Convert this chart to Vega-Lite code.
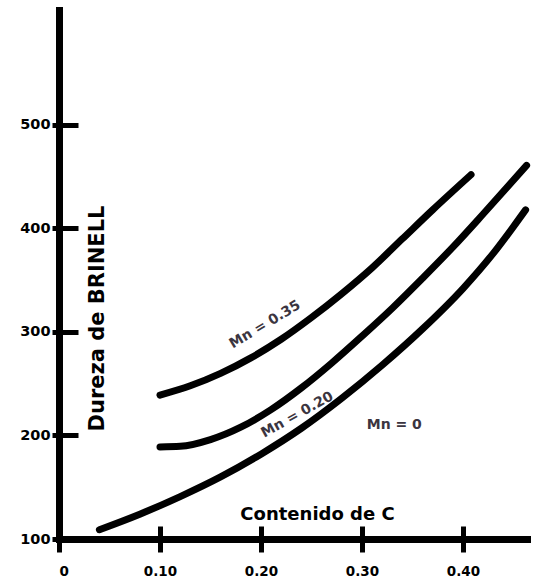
{
  "$schema": "https://vega.github.io/schema/vega-lite/v6.json",
  "autosize": {"type": "none"},
  "padding": {"left": 59, "top": 10, "right": 11, "bottom": 43},
  "width": 468,
  "height": 529,
  "background": "white",
  "config": {"view": {"stroke": null}, "font": "DejaVu Sans"},
  "datasets": {
    "curves": [
      {"c": 0.10, "h": 239, "s": "a"},
      {"c": 0.13, "h": 248, "s": "a"},
      {"c": 0.16, "h": 260, "s": "a"},
      {"c": 0.19, "h": 275, "s": "a"},
      {"c": 0.22, "h": 293, "s": "a"},
      {"c": 0.25, "h": 314, "s": "a"},
      {"c": 0.28, "h": 337, "s": "a"},
      {"c": 0.31, "h": 362, "s": "a"},
      {"c": 0.34, "h": 390, "s": "a"},
      {"c": 0.37, "h": 418, "s": "a"},
      {"c": 0.408, "h": 452, "s": "a"},
      {"c": 0.10, "h": 189, "s": "b"},
      {"c": 0.12, "h": 189.5, "s": "b"},
      {"c": 0.15, "h": 196, "s": "b"},
      {"c": 0.18, "h": 208, "s": "b"},
      {"c": 0.21, "h": 225, "s": "b"},
      {"c": 0.24, "h": 246, "s": "b"},
      {"c": 0.27, "h": 270, "s": "b"},
      {"c": 0.30, "h": 296, "s": "b"},
      {"c": 0.33, "h": 323, "s": "b"},
      {"c": 0.36, "h": 352, "s": "b"},
      {"c": 0.39, "h": 382, "s": "b"},
      {"c": 0.42, "h": 414, "s": "b"},
      {"c": 0.463, "h": 461, "s": "b"},
      {"c": 0.04, "h": 109, "s": "c"},
      {"c": 0.08, "h": 124, "s": "c"},
      {"c": 0.12, "h": 141, "s": "c"},
      {"c": 0.16, "h": 160, "s": "c"},
      {"c": 0.20, "h": 182, "s": "c"},
      {"c": 0.24, "h": 207, "s": "c"},
      {"c": 0.28, "h": 236, "s": "c"},
      {"c": 0.32, "h": 268, "s": "c"},
      {"c": 0.36, "h": 303, "s": "c"},
      {"c": 0.40, "h": 342, "s": "c"},
      {"c": 0.43, "h": 376, "s": "c"},
      {"c": 0.462, "h": 418, "s": "c"}
    ],
    "labels": [
      {"c": 0.204, "h": 307, "t": "Mn = 0.35", "k": "top"},
      {"c": 0.236, "h": 220, "t": "Mn = 0.20", "k": "mid"},
      {"c": 0.332, "h": 210, "t": "Mn = 0", "k": "low"}
    ]
  },
  "layer": [
    {
      "data": {"name": "curves"},
      "mark": {"type": "line", "color": "black", "strokeWidth": 7, "strokeCap": "round", "interpolate": "monotone"},
      "encoding": {
        "x": {
          "field": "c", "type": "quantitative",
          "scale": {"domain": [0, 0.4634], "nice": false, "zero": false},
          "axis": {
            "orient": "bottom",
            "values": [0, 0.1, 0.2, 0.3, 0.4],
            "labelExpr": "datum.value == 0 ? '0' : format(datum.value, '.2f')",
            "grid": false,
            "domain": true, "domainColor": "black", "domainWidth": 7, "domainCap": "square",
            "ticks": true, "tickColor": "black", "tickWidth": 5, "tickSize": 13,
            "labelFont": "DejaVu Sans", "labelFontWeight": "bold", "labelFontSize": 13.5, "labelColor": "black",
            "labelPadding": 12, "labelBaseline": "top",
            "title": "Contenido de C",
            "titleFont": "DejaVu Sans", "titleFontWeight": "bold", "titleFontSize": 18, "titleColor": "black",
            "titleX": 258, "titleY": -25, "titleBaseline": "middle", "titleAlign": "center", "titleAnchor": null
          }
        },
        "y": {
          "field": "h", "type": "quantitative",
          "scale": {"domain": [100, 611.1], "nice": false, "zero": false},
          "axis": {
            "orient": "left",
            "values": [100, 200, 300, 400, 500],
            "grid": false,
            "domain": true, "domainColor": "black", "domainWidth": 7, "domainCap": "square",
            "ticks": true, "tickColor": "black", "tickWidth": 5, "tickSize": 7,
            "labelFont": "DejaVu Sans", "labelFontWeight": "bold", "labelFontSize": 14.5, "labelColor": "black",
            "labelPadding": 2,
            "title": "Dureza de BRINELL",
            "titleFont": "DejaVu Sans", "titleFontWeight": "bold", "titleFontSize": 21, "titleColor": "black",
            "titleX": 38, "titleY": 308, "titleAngle": 270, "titleBaseline": "middle", "titleAlign": "center", "titleAnchor": null
          }
        },
        "detail": {"field": "s"}
      }
    },
    {
      "data": {"name": "labels"},
      "transform": [{"filter": "datum.k == 'top'"}],
      "mark": {"type": "text", "angle": -31, "font": "DejaVu Sans", "fontWeight": "bold", "fontSize": 14, "color": "#3b3540"},
      "encoding": {
        "x": {"field": "c", "type": "quantitative", "axis": {
          "orient": "bottom", "values": [0.1, 0.2, 0.3, 0.4], "grid": false, "domain": false, "labels": false,
          "ticks": true, "tickColor": "black", "tickWidth": 5, "tickSize": -13, "title": null}},
        "y": {"field": "h", "type": "quantitative", "axis": {
          "orient": "left", "values": [200, 300, 400, 500], "grid": false, "domain": false, "labels": false,
          "ticks": true, "tickColor": "black", "tickWidth": 5, "tickSize": -19, "title": null}},
        "text": {"field": "t"}
      }
    },
    {
      "data": {"name": "labels"},
      "transform": [{"filter": "datum.k == 'mid'"}],
      "mark": {"type": "text", "angle": -29, "font": "DejaVu Sans", "fontWeight": "bold", "fontSize": 14, "color": "#3b3540"},
      "encoding": {
        "x": {"field": "c", "type": "quantitative", "axis": null},
        "y": {"field": "h", "type": "quantitative", "axis": null},
        "text": {"field": "t"}
      }
    },
    {
      "data": {"name": "labels"},
      "transform": [{"filter": "datum.k == 'low'"}],
      "mark": {"type": "text", "angle": 0, "font": "DejaVu Sans", "fontWeight": "bold", "fontSize": 14, "color": "#3b3540"},
      "encoding": {
        "x": {"field": "c", "type": "quantitative", "axis": null},
        "y": {"field": "h", "type": "quantitative", "axis": null},
        "text": {"field": "t"}
      }
    }
  ],
  "resolve": {"axis": {"x": "independent", "y": "independent"}}
}
